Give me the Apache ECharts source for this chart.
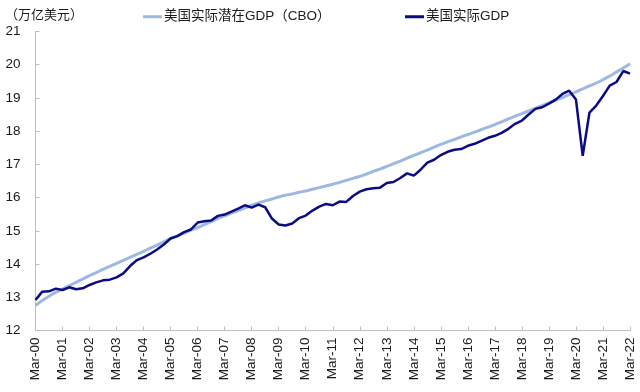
<!DOCTYPE html>
<html>
<head>
<meta charset="utf-8">
<script src="https://cdn.jsdelivr.net/npm/echarts@6/dist/echarts.min.js"></script>
<style>
  html, body { margin: 0; padding: 0; background: #fff; }
  #chart { width: 640px; height: 392px; }
</style>
</head>
<body>
<div id="chart"></div>
<script>
// Quarterly categories Mar-00 ... Mar-22
var months = ['Mar', 'Jun', 'Sep', 'Dec'];
var categories = [];
for (var y = 0; y <= 22; y++) {
  for (var q = 0; q < 4; q++) {
    if (y === 22 && q > 0) break;
    categories.push(months[q] + '-' + (y < 10 ? '0' + y : '' + y));
  }
}

var seriesNames = ['美国实际潜在GDP（CBO）', '美国实际GDP'];
var yAxisTitle = '（万亿美元）';

// 美国实际潜在GDP（CBO），万亿美元
var potentialGDP = [
  12.75, 12.90, 13.03, 13.15,
  13.25, 13.35, 13.45, 13.55,
  13.65, 13.74, 13.84, 13.93,
  14.02, 14.11, 14.20, 14.29,
  14.38, 14.48, 14.57, 14.67,
  14.77, 14.85, 14.93, 15.02,
  15.10, 15.19, 15.28, 15.37,
  15.45, 15.53, 15.61, 15.69,
  15.77, 15.84, 15.90, 15.96,
  16.02, 16.07, 16.11, 16.16,
  16.20, 16.25, 16.30, 16.35,
  16.40, 16.46, 16.52, 16.58,
  16.64, 16.71, 16.79, 16.86,
  16.94, 17.02, 17.10, 17.19,
  17.27, 17.35, 17.43, 17.52,
  17.60, 17.68, 17.75, 17.83,
  17.90, 17.97, 18.05, 18.12,
  18.20, 18.28, 18.37, 18.45,
  18.53, 18.61, 18.69, 18.77,
  18.85, 18.93, 19.01, 19.10,
  19.18, 19.27, 19.36, 19.45,
  19.55, 19.66, 19.78, 19.90,
  20.03
];

// 美国实际GDP，万亿美元
var realGDP = [
  12.92, 13.17, 13.18, 13.26,
  13.22, 13.30, 13.24, 13.27,
  13.37, 13.45, 13.51, 13.53,
  13.60, 13.72, 13.94, 14.12,
  14.20, 14.31, 14.44, 14.59,
  14.77, 14.84, 14.96, 15.04,
  15.25, 15.29, 15.31, 15.45,
  15.49, 15.58, 15.67, 15.77,
  15.70, 15.79, 15.71, 15.37,
  15.19, 15.16, 15.22, 15.38,
  15.46, 15.61, 15.73, 15.81,
  15.77, 15.88, 15.87, 16.05,
  16.18, 16.25, 16.28, 16.30,
  16.44, 16.47, 16.59, 16.73,
  16.66, 16.84, 17.05, 17.14,
  17.28, 17.38, 17.44, 17.46,
  17.56, 17.62, 17.71, 17.80,
  17.86, 17.95, 18.07, 18.22,
  18.32, 18.50, 18.67, 18.72,
  18.83, 18.95, 19.12, 19.22,
  18.95, 17.26, 18.56, 18.77,
  19.06, 19.37, 19.48, 19.81,
  19.73
];

var yMin = 12, yMax = 21, yInterval = 1;

var FONT = '"Liberation Sans", Arial, "Noto Sans CJK SC", sans-serif';
var lightColor = '#9DB9DF';
var darkColor = '#0B0B84';
var axisGrey = '#BFBFBF';

var chart = echarts.init(document.getElementById('chart'), null, { renderer: 'canvas' });
chart.setOption({
  animation: false,
  backgroundColor: '#ffffff',
  textStyle: { fontFamily: FONT },
  title: {
    text: yAxisTitle,
    left: 0,
    top: 4,
    textStyle: { fontFamily: FONT, fontSize: 13, fontWeight: 'normal', color: '#1a1a1a' }
  },
  legend: [
    {
      data: [seriesNames[0]],
      left: 138,
      top: 5,
      icon: 'rect',
      itemWidth: 19,
      itemHeight: 3,
      textStyle: { fontFamily: FONT, fontSize: 13.5, color: '#1a1a1a', padding: [0, 0, 0, -3] }
    },
    {
      data: [seriesNames[1]],
      left: 400,
      top: 5,
      icon: 'rect',
      itemWidth: 19,
      itemHeight: 3,
      textStyle: { fontFamily: FONT, fontSize: 13.5, color: '#1a1a1a', padding: [0, 0, 0, -3] }
    }
  ],
  grid: { left: 35.5, right: 10, top: 31.5, bottom: 61.5, containLabel: false },
  xAxis: {
    type: 'category',
    data: categories,
    boundaryGap: false,
    axisLine: { lineStyle: { color: axisGrey, width: 1 } },
    axisTick: { show: true, inside: true, length: 4, interval: 3, lineStyle: { color: axisGrey } },
    axisLabel: {
      interval: 3,
      rotate: 90,
      margin: 7,
      fontFamily: FONT,
      fontSize: 13.5,
      color: '#1a1a1a'
    },
    splitLine: { show: false }
  },
  yAxis: {
    type: 'value',
    min: yMin,
    max: yMax,
    interval: yInterval,
    axisLine: { show: true, lineStyle: { color: axisGrey, width: 1 } },
    axisTick: { show: true, inside: true, length: 4, lineStyle: { color: axisGrey } },
    axisLabel: { margin: 15, fontFamily: FONT, fontSize: 13.5, color: '#1a1a1a' },
    splitLine: { show: false }
  },
  series: [
    {
      name: seriesNames[0],
      type: 'line',
      data: potentialGDP,
      smooth: true,
      showSymbol: false,
      symbol: 'none',
      lineStyle: { color: lightColor, width: 3 },
      itemStyle: { color: lightColor },
      z: 2
    },
    {
      name: seriesNames[1],
      type: 'line',
      data: realGDP,
      smooth: false,
      showSymbol: false,
      symbol: 'none',
      lineStyle: { color: darkColor, width: 2.5 },
      itemStyle: { color: darkColor },
      z: 3
    }
  ]
});
</script>
</body>
</html>
